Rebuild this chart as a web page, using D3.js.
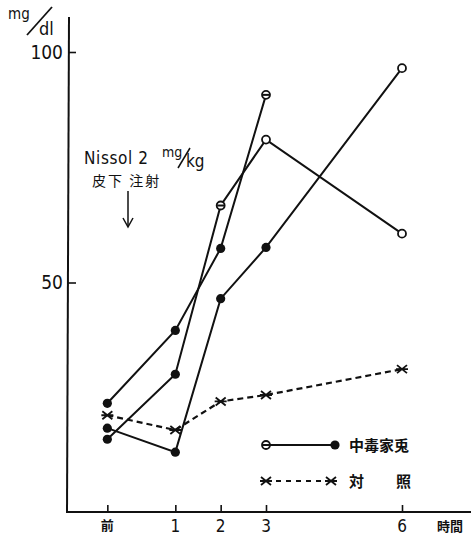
<!DOCTYPE html>
<html><head><meta charset="utf-8">
<script src="https://cdn.jsdelivr.net/npm/d3@7"></script>
<style>
html,body{margin:0;padding:0;background:#fff;}
svg{display:block;}
text{font-family:"DejaVu Sans Condensed","DejaVu Sans",sans-serif;fill:#111;}
.jp{font-family:"Noto Sans CJK JP",sans-serif;}
</style>
</head><body>
<svg id="c" width="471" height="537"></svg>
<script>
// ---- data ----
const hours = [-0.5, 1, 2, 3, 6];
const xTickLabels = ["前", "1", "2", "3", "6"];
const yTicks = [50, 100];
const rabbitA = [23.8, 39.6, 57.4, 90.7, null];
const rabbitB = [16.0, 30.1, 66.7, 81.0, 60.6];
const rabbitC = [18.4, 13.2, 46.5, 57.6, 96.5];
const control = [21.2, 18.0, 24.2, 25.6, 31.2];
const legendLabels = ["中毒家兎", "対", "照"];
// marker kinds per point (style)
const markA = ["fill", "fill", "fill", "theta", null];
const markB = ["fill", "fill", "theta", "open", "open"];
const markC = ["fill", "fill", "fill", "fill", "open"];

const svg = d3.select("#c");
const x = d3.scaleLinear().domain([0, 6]).range([130, 402]);
const y = d3.scaleLinear().domain([0, 100]).range([513, 52]);
const ink = "#111";

// x axis
const xAxis = d3.axisBottom(x).tickValues(hours).tickFormat("")
  .tickSizeInner(-7).tickSizeOuter(0);
const gx = svg.append("g").attr("transform", "translate(0,512)").call(xAxis);
gx.select(".domain").remove();
gx.selectAll(".tick line").attr("stroke", ink).attr("stroke-width", 1.6);
svg.append("g").selectAll("text").data(hours).join("text")
  .attr("x", d => x(d)).attr("y", (d, i) => i === 0 ? 530 : 532)
  .attr("text-anchor", "middle")
  .attr("class", (d, i) => i === 0 ? "jp" : null)
  .attr("font-weight", (d, i) => i === 0 ? "bold" : null)
  .attr("font-size", (d, i) => i === 0 ? 13 : 17)
  .text((d, i) => xTickLabels[i]);
svg.append("line").attr("x1", 66).attr("x2", 471).attr("y1", 512).attr("y2", 512)
  .attr("stroke", ink).attr("stroke-width", 2);
svg.append("text").attr("class", "jp").attr("x", 437).attr("y", 531)
  .attr("font-size", 13).attr("font-weight", "bold").text("時間");

// y axis
const yAxis = d3.axisLeft(y).tickValues(yTicks).tickSizeInner(-8).tickSizeOuter(0).tickPadding(5);
const gy = svg.append("g").attr("transform", "translate(68,0)").call(yAxis);
gy.select(".domain").remove();
gy.selectAll(".tick line").attr("stroke", ink).attr("stroke-width", 1.6);
gy.selectAll(".tick text").attr("font-size", 19).attr("fill", ink);
svg.append("line").attr("x1", 69).attr("x2", 67).attr("y1", 17).attr("y2", 512)
  .attr("stroke", ink).attr("stroke-width", 2);

// unit label mg/dl
svg.append("text").attr("x", 8).attr("y", 19).attr("font-size", 15).text("mg");
svg.append("line").attr("x1", 27).attr("y1", 35).attr("x2", 52).attr("y2", 7)
  .attr("stroke", ink).attr("stroke-width", 1.8);
svg.append("text").attr("x", 39).attr("y", 35).attr("font-size", 18).text("dl");

// annotation
svg.append("text").attr("x", 84).attr("y", 164).attr("font-size", 17)
  .attr("letter-spacing", 0.6).text("Nissol 2");
svg.append("text").attr("x", 162).attr("y", 157).attr("font-size", 14).text("mg");
svg.append("line").attr("x1", 178).attr("y1", 168).attr("x2", 190).attr("y2", 148)
  .attr("stroke", ink).attr("stroke-width", 1.5);
svg.append("text").attr("x", 186).attr("y", 167).attr("font-size", 17).text("kg");
svg.append("text").attr("class", "jp").attr("x", 92).attr("y", 186).attr("font-size", 14)
  .attr("letter-spacing", 2).text("皮下 注射");
svg.append("line").attr("x1", 128).attr("x2", 128).attr("y1", 191).attr("y2", 226)
  .attr("stroke", ink).attr("stroke-width", 1.5);
svg.append("path").attr("d", "M123,218 L128,227 L133,218").attr("fill", "none")
  .attr("stroke", ink).attr("stroke-width", 1.5);

// lines
const line = d3.line().defined(d => d[1] != null).x(d => x(d[0])).y(d => y(d[1]));
function pts(vals) { return hours.map((h, i) => [h, vals[i]]); }

[rabbitA, rabbitB, rabbitC].forEach(s => {
  svg.append("path").attr("d", line(pts(s))).attr("fill", "none")
    .attr("stroke", ink).attr("stroke-width", 2);
});
svg.append("path").attr("d", line(pts(control))).attr("fill", "none")
  .attr("stroke", ink).attr("stroke-width", 2.2).attr("stroke-dasharray", "6,4");

function marker(g, cx, cy, kind) {
  if (kind === "fill") {
    g.append("circle").attr("cx", cx).attr("cy", cy).attr("r", 4.6).attr("fill", ink);
  } else if (kind === "open" || kind === "theta") {
    g.append("circle").attr("cx", cx).attr("cy", cy).attr("r", 4).attr("fill", "#fff")
      .attr("stroke", ink).attr("stroke-width", 1.8);
    if (kind === "theta") g.append("line").attr("x1", cx - 3.5).attr("x2", cx + 3.5)
      .attr("y1", cy).attr("y2", cy).attr("stroke", ink).attr("stroke-width", 2);
  } else if (kind === "star") {
    g.append("path").attr("d", `M${cx-5},${cy-4}L${cx+5},${cy+4}M${cx-5},${cy+4}L${cx+5},${cy-4}M${cx-6},${cy}L${cx+6},${cy}`)
      .attr("stroke", ink).attr("stroke-width", 1.8).attr("fill", "none");
  }
}
const gm = svg.append("g");
[[rabbitA, markA], [rabbitB, markB], [rabbitC, markC]].forEach(([s, m]) => {
  s.forEach((v, i) => { if (v != null) marker(gm, x(hours[i]), y(v), m[i]); });
});
control.forEach((v, i) => marker(gm, x(hours[i]), y(v), "star"));

// legend
const lg = svg.append("g");
lg.append("line").attr("x1", 266).attr("x2", 335).attr("y1", 445).attr("y2", 445)
  .attr("stroke", ink).attr("stroke-width", 2);
marker(lg, 266, 445, "theta");
marker(lg, 335, 445, "fill");
lg.append("text").attr("class", "jp").attr("x", 349).attr("y", 451).attr("font-size", 15)
  .attr("font-weight", "bold").text(legendLabels[0]);
lg.append("line").attr("x1", 266).attr("x2", 331).attr("y1", 481).attr("y2", 481)
  .attr("stroke", ink).attr("stroke-width", 2).attr("stroke-dasharray", "5,5");
marker(lg, 266, 481, "star");
marker(lg, 331, 481, "star");
lg.append("text").attr("class", "jp").attr("x", 349).attr("y", 487).attr("font-size", 15)
  .attr("font-weight", "bold").text(legendLabels[1]);
lg.append("text").attr("class", "jp").attr("x", 396).attr("y", 487).attr("font-size", 15)
  .attr("font-weight", "bold").text(legendLabels[2]);
</script>
</body></html>
